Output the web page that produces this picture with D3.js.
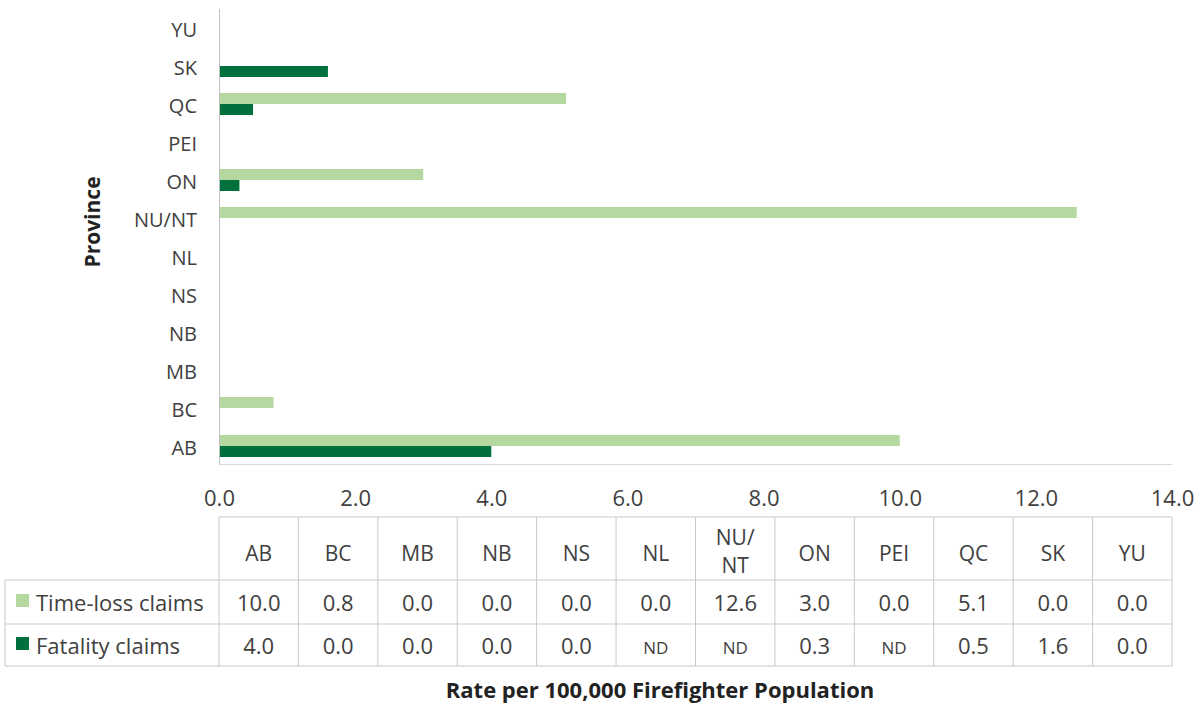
<!DOCTYPE html>
<html><head><meta charset="utf-8">
<script src="https://cdn.jsdelivr.net/npm/d3@7"></script>
<style>body{margin:0;background:#fff;} text{font-family:"Open Sans",sans-serif;}</style>
</head><body>
<svg id="c" width="1202" height="706"></svg>
<script>
const provinces = ["AB","BC","MB","NB","NS","NL","NU/NT","ON","PEI","QC","SK","YU"];
const timeLoss = [10.0,0.8,0.0,0.0,0.0,0.0,12.6,3.0,0.0,5.1,0.0,0.0];
const fatality = [4.0,0.0,0.0,0.0,0.0,null,null,0.3,null,0.5,1.6,0.0];
const seriesNames = ["Time-loss claims","Fatality claims"];
const seriesColors = ["#b5d7a0","#00703c"];
const xTicks = [0,2,4,6,8,10,12,14];

const svg = d3.select("#c");
const x = d3.scaleLinear().domain([0,14]).range([219,1172]);
const y = d3.scaleBand().domain(provinces.slice().reverse()).range([9,465]).paddingInner(0.42).paddingOuter(0.21);
const sub = d3.scaleBand().domain([0,1]).range([0,y.bandwidth()]);
const txt = "#404040";

// bars
const series = [timeLoss, fatality];
series.forEach((vals,si)=>{
  svg.append("g").selectAll("rect").data(provinces.map((p,i)=>({p,v:vals[i]})).filter(d=>d.v))
    .join("rect")
    .attr("x",x(0)).attr("y",d=>y(d.p)+sub(si))
    .attr("width",d=>x(d.v)-x(0)).attr("height",sub.bandwidth())
    .attr("fill",seriesColors[si]);
});

// axes
const yAxis = svg.append("g").attr("transform",`translate(${x(0)},3)`).call(d3.axisLeft(y).tickSize(0).tickPadding(22));
yAxis.select(".domain").remove();
yAxis.selectAll("text").attr("fill",txt).style("font-size","20px").style("font-family","Open Sans");
svg.append("line").attr("x1",x(0)+0.5).attr("x2",x(0)+0.5).attr("y1",9).attr("y2",465).attr("stroke","#c0c0c0");

svg.append("line").attr("x1",x(0)).attr("x2",x(14)).attr("y1",464.5).attr("y2",464.5).attr("stroke","#d9d9d9");

const xAxis = svg.append("g").attr("transform","translate(0,487)").call(d3.axisBottom(x).tickValues(xTicks).tickSize(0).tickFormat(d3.format(".1f")));
xAxis.select(".domain").remove();
xAxis.selectAll("text").attr("fill",txt).style("font-size","22px").style("font-family","Open Sans");

// axis titles
svg.append("text").attr("transform","translate(100,222) rotate(-90)").attr("text-anchor","middle")
  .attr("font-weight","bold").attr("fill","#222").style("font-size","21px").text("Province");
svg.append("text").attr("x",660).attr("y",698).attr("text-anchor","middle")
  .attr("font-weight","bold").attr("fill","#222").style("font-size","22px").text("Rate per 100,000 Firefighter Population");

// data table
const colW = (x(14)-x(0))/provinces.length;
const rowsY = [517,580,624,666];
const lc = "#c8c8c8";
const tg = svg.append("g");
tg.append("line").attr("x1",x(0)).attr("x2",x(14)).attr("y1",rowsY[0]).attr("y2",rowsY[0]).attr("stroke",lc);
[1,2,3].forEach(r=>tg.append("line").attr("x1",5).attr("x2",x(14)).attr("y1",rowsY[r]).attr("y2",rowsY[r]).attr("stroke",lc));
d3.range(provinces.length+1).forEach(i=>{
  tg.append("line").attr("x1",x(0)+i*colW).attr("x2",x(0)+i*colW).attr("y1",rowsY[0]).attr("y2",rowsY[3]).attr("stroke",lc);
});
tg.append("line").attr("x1",5).attr("x2",5).attr("y1",rowsY[1]).attr("y2",rowsY[3]).attr("stroke",lc);

// header
provinces.forEach((p,i)=>{
  const cx = x(0)+(i+0.5)*colW;
  const parts = p==="NU/NT" ? ["NU/","NT"] : [p];
  parts.forEach((t,k)=>{
    tg.append("text").attr("x",cx).attr("y", parts.length===1 ? 561 : 545+k*28).attr("text-anchor","middle")
      .attr("fill",txt).style("font-size","21px").text(t);
  });
});
// rows
series.forEach((vals,si)=>{
  const cy = (rowsY[si+1]+rowsY[si+2])/2;
  tg.append("rect").attr("x",16).attr("y",cy-8).attr("width",13).attr("height",13).attr("fill",seriesColors[si]);
  tg.append("text").attr("x",36).attr("y",cy+9).attr("fill",txt).style("font-size","22px").text(seriesNames[si]);
  vals.forEach((v,i)=>{
    const cx = x(0)+(i+0.5)*colW;
    tg.append("text").attr("x",cx).attr("y",cy+(v===null?9:9)).attr("text-anchor","middle")
      .attr("fill",txt).style("font-size",v===null?"17px":"22px").text(v===null?"ND":d3.format(".1f")(v));
  });
});
</script>
</body></html>
